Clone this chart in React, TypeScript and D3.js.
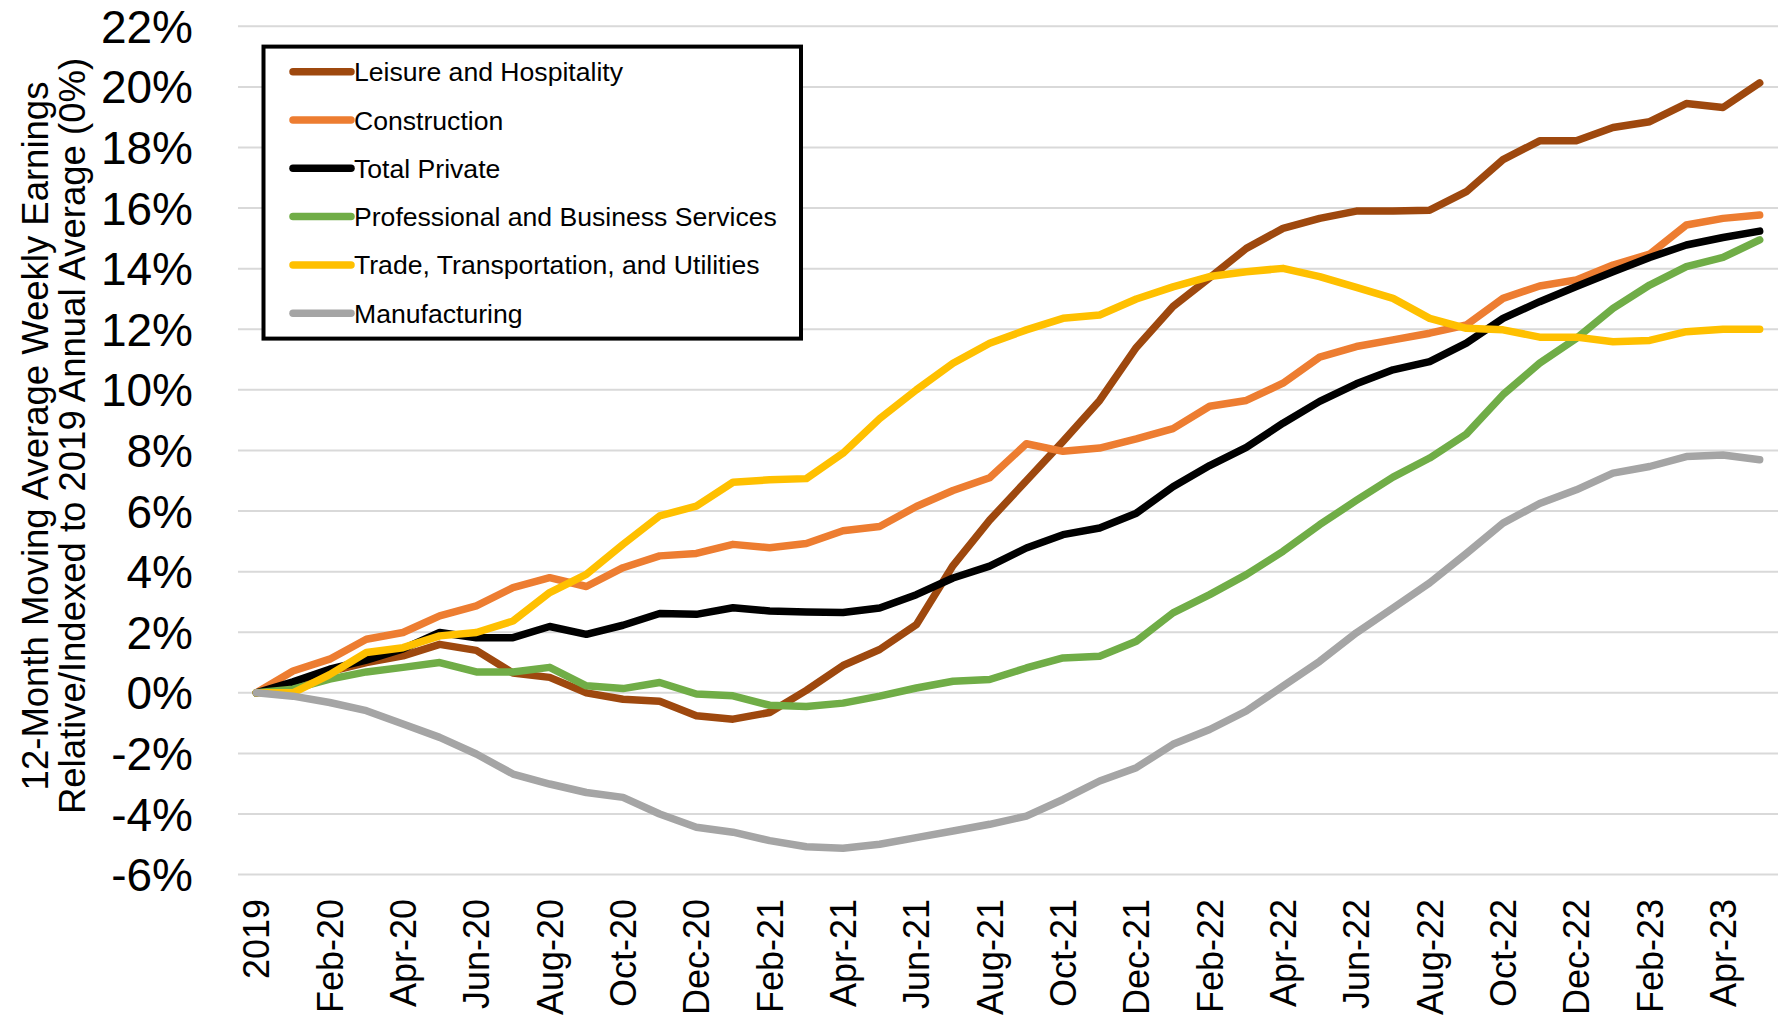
import React, { useEffect, useRef } from "react";
import * as d3 from "d3";

const WIDTH = 1781;
const HEIGHT = 1019;

// monthly categories, 2019 baseline then Jan-20 .. May-23
const months = ["Jan", "Feb", "Mar", "Apr", "May", "Jun", "Jul", "Aug", "Sep", "Oct", "Nov", "Dec"];
const categories: string[] = ["2019"];
for (const yr of ["20", "21", "22", "23"]) {
  for (const m of months) {
    if (yr === "23" && categories.length >= 42) break;
    categories.push(`${m}-${yr}`);
  }
}
const shownLabels = categories.filter((_, i) => i % 2 === 0);

const yTicks = [-6, -4, -2, 0, 2, 4, 6, 8, 10, 12, 14, 16, 18, 20, 22];

const leisure = [
  0, 0.3, 0.7, 1.0, 1.22, 1.6, 1.4, 0.65, 0.51, 0.0, -0.21, -0.28, -0.76, -0.87, -0.65, 0.08,
  0.9, 1.43, 2.25, 4.2, 5.7, 7.0, 8.3, 9.65, 11.4, 12.75, 13.7, 14.67, 15.33, 15.66, 15.9, 15.9,
  15.93, 16.54, 17.6, 18.22, 18.22, 18.66, 18.85, 19.45, 19.32, 20.13,
];
const construction = [
  0, 0.72, 1.11, 1.77, 1.99, 2.54, 2.87, 3.47, 3.8, 3.51, 4.13, 4.52, 4.6, 4.9, 4.79, 4.93,
  5.35, 5.49, 6.15, 6.68, 7.1, 8.22, 7.97, 8.08, 8.38, 8.72, 9.46, 9.65, 10.22, 11.08, 11.43, 11.65,
  11.87, 12.14, 13.02, 13.43, 13.63, 14.12, 14.48, 15.44, 15.66, 15.77,
];
const totalPrivate = [
  0, 0.36, 0.78, 1.08, 1.45, 1.99, 1.82, 1.82, 2.19, 1.93, 2.23, 2.62, 2.59, 2.81, 2.7, 2.67,
  2.65, 2.8, 3.24, 3.79, 4.18, 4.78, 5.22, 5.44, 5.93, 6.8, 7.5, 8.1, 8.9, 9.62, 10.2, 10.66,
  10.93, 11.54, 12.36, 12.91, 13.41, 13.9, 14.37, 14.78, 15.03, 15.24,
];
const professional = [
  0, 0.12, 0.45, 0.69, 0.84, 1.0, 0.69, 0.69, 0.84, 0.23, 0.14, 0.34, -0.04, -0.1, -0.41, -0.45,
  -0.34, -0.11, 0.16, 0.38, 0.44, 0.82, 1.15, 1.21, 1.7, 2.64, 3.24, 3.9, 4.67, 5.55, 6.35, 7.12,
  7.75, 8.54, 9.84, 10.88, 11.7, 12.69, 13.46, 14.07, 14.37, 14.95,
];
const trade = [
  0, 0.0, 0.6, 1.33, 1.49, 1.88, 1.99, 2.37, 3.31, 3.91, 4.9, 5.84, 6.16, 6.95, 7.03, 7.07,
  7.91, 9.05, 10.0, 10.88, 11.54, 11.98, 12.36, 12.47, 13.0, 13.4, 13.74, 13.9, 14.01, 13.74, 13.38, 13.02,
  12.36, 12.03, 11.98, 11.74, 11.74, 11.59, 11.63, 11.92, 12.0, 12.0,
];
const manufacturing = [
  0, -0.11, -0.32, -0.59, -1.03, -1.47, -2.02, -2.68, -3.01, -3.29, -3.45, -4.0, -4.44, -4.6, -4.88, -5.08,
  -5.13, -5.0, -4.78, -4.56, -4.34, -4.07, -3.52, -2.91, -2.47, -1.7, -1.21, -0.6, 0.22, 1.04, 1.98, 2.8,
  3.63, 4.6, 5.6, 6.25, 6.7, 7.25, 7.47, 7.8, 7.85, 7.69,
];

const seriesNames = [
  "Leisure and Hospitality",
  "Construction",
  "Total Private",
  "Professional and Business Services",
  "Trade, Transportation, and Utilities",
  "Manufacturing",
];
const seriesValues = [leisure, construction, totalPrivate, professional, trade, manufacturing];
const seriesColors = ["#9E480E", "#ED7D31", "#000000", "#70AD47", "#FFC000", "#A5A5A5"];

const FONT = "'Liberation Sans', Arial, sans-serif";

export default function App() {
  const ref = useRef<SVGSVGElement | null>(null);

  useEffect(() => {
    document.body.style.margin = "0";
    const svg = d3.select(ref.current);
    svg.selectAll("*").remove();

    const plot = { left: 238, right: 1778, top: 26.3, bottom: 874.6 };

    const x = d3
      .scalePoint<string>()
      .domain(categories)
      .range([plot.left, plot.right])
      .padding(0.5);

    const y = d3.scaleLinear().domain([-6, 22]).range([plot.bottom, plot.top]);

    // gridlines
    svg
      .append("g")
      .selectAll("line")
      .data(yTicks)
      .join("line")
      .attr("x1", plot.left)
      .attr("x2", plot.right)
      .attr("y1", (d) => y(d))
      .attr("y2", (d) => y(d))
      .attr("stroke", "#D9D9D9")
      .attr("stroke-width", 2);

    // y tick labels
    svg
      .append("g")
      .selectAll("text")
      .data(yTicks)
      .join("text")
      .attr("x", 193)
      .attr("y", (d) => y(d))
      .attr("dy", "0.36em")
      .attr("text-anchor", "end")
      .attr("font-family", FONT)
      .attr("font-size", 46)
      .attr("fill", "#000")
      .text((d) => `${d}%`);

    // x tick labels, rotated
    svg
      .append("g")
      .selectAll("text")
      .data(shownLabels)
      .join("text")
      .attr("transform", (d) => `translate(${x(d)},899) rotate(-90)`)
      .attr("dy", "0.36em")
      .attr("text-anchor", "end")
      .attr("font-family", FONT)
      .attr("font-size", 36)
      .attr("fill", "#000")
      .text((d) => d);

    // y axis title
    const title = svg
      .append("text")
      .attr("transform", "translate(0,436) rotate(-90)")
      .attr("text-anchor", "middle")
      .attr("font-family", FONT)
      .attr("font-size", 36.5)
      .attr("fill", "#000");
    title.append("tspan").attr("x", 0).attr("y", 35).attr("dy", "0.35em").text("12-Month Moving Average Weekly Earnings");
    title
      .append("tspan")
      .attr("x", 0)
      .attr("y", 72)
      .attr("dy", "0.35em")
      .text("Relative/Indexed to 2019 Annual Average (0%)");

    // series lines
    const line = d3
      .line<number>()
      .x((_, i) => x(categories[i]) as number)
      .y((d) => y(d));

    seriesValues.forEach((vals, k) => {
      svg
        .append("path")
        .datum(vals)
        .attr("fill", "none")
        .attr("stroke", seriesColors[k])
        .attr("stroke-width", 7.5)
        .attr("stroke-linejoin", "round")
        .attr("stroke-linecap", "round")
        .attr("d", line);
    });

    // legend
    const legend = svg.append("g");
    legend
      .append("rect")
      .attr("x", 263.5)
      .attr("y", 46.6)
      .attr("width", 537.5)
      .attr("height", 292)
      .attr("fill", "#fff")
      .attr("stroke", "#000")
      .attr("stroke-width", 4);

    const rows = legend
      .selectAll("g.row")
      .data(seriesNames)
      .join("g")
      .attr("class", "row")
      .attr("transform", (_, i) => `translate(0,${71.7 + i * 48.3})`);

    rows
      .append("line")
      .attr("x1", 293)
      .attr("x2", 351)
      .attr("stroke", (_, i) => seriesColors[i])
      .attr("stroke-width", 7.5)
      .attr("stroke-linecap", "round");

    rows
      .append("text")
      .attr("x", 354)
      .attr("dy", "0.36em")
      .attr("font-family", FONT)
      .attr("font-size", 26.6)
      .attr("fill", "#000")
      .text((d) => d);
  }, []);

  return <svg ref={ref} width={WIDTH} height={HEIGHT} style={{ display: "block", background: "#fff" }} />;
}
